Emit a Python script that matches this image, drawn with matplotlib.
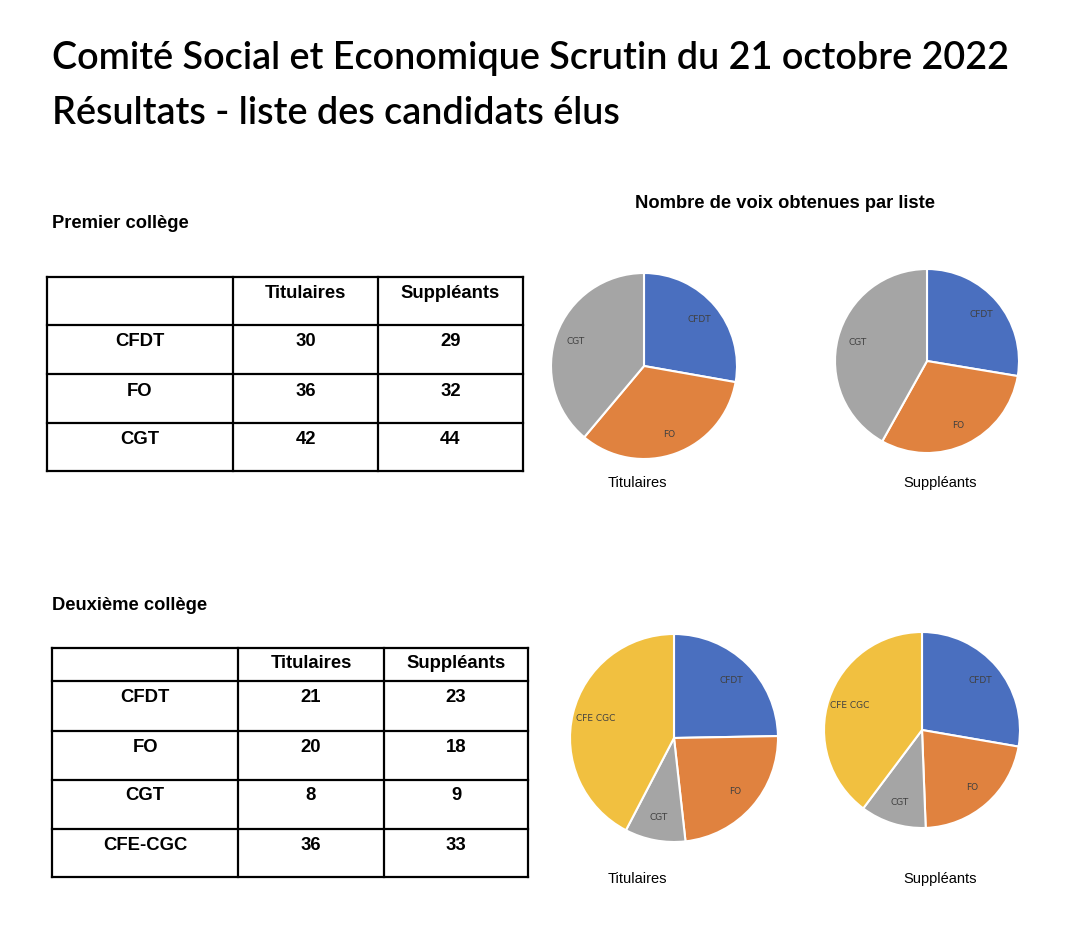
import matplotlib
matplotlib.use("Agg")
import matplotlib.pyplot as plt

# data
columns = ["Titulaires", "Suppléants"]

college1_lists = ["CFDT", "FO", "CGT"]
college1_titulaires = [30, 36, 42]
college1_suppleants = [29, 32, 44]

college2_lists = ["CFDT", "FO", "CGT", "CFE-CGC"]
college2_pie_labels = ["CFDT", "FO", "CGT", "CFE CGC"]
college2_titulaires = [21, 20, 8, 36]
college2_suppleants = [23, 18, 9, 33]

colors = ["#4a6fbf", "#e0823f", "#a5a5a5", "#f1c040"]

W, H = 1078, 940
fig = plt.figure(figsize=(W / 100, H / 100), dpi=100)
bg = fig.add_axes([0, 0, 1, 1])
bg.set_xlim(0, W)
bg.set_ylim(H, 0)
bg.axis("off")

# titles
bg.text(52, 58, "Comité Social et Economique Scrutin du 21 octobre 2022",
        fontsize=27.2, fontweight="semibold", family="Lato", va="center", ha="left")
bg.text(52, 113, "Résultats - liste des candidats élus",
        fontsize=27.2, fontweight="semibold", family="Lato", va="center", ha="left")

bg.text(52, 224, "Premier collège", fontsize=13.2, fontweight="bold",
        family="Liberation Sans", va="center")
bg.text(52, 606, "Deuxième collège", fontsize=13.2, fontweight="bold",
        family="Liberation Sans", va="center")
bg.text(785, 203, "Nombre de voix obtenues par liste", fontsize=13.2,
        fontweight="bold", family="Liberation Sans", va="center", ha="center")


def draw_table(x_edges, y_edges, rows, tit, sup, text_dy):
    for x in x_edges:
        bg.plot([x, x], [y_edges[0], y_edges[-1]], color="black", lw=1.6)
    for y in y_edges:
        bg.plot([x_edges[0], x_edges[-1]], [y, y], color="black", lw=1.6)
    for j, col in enumerate(columns):
        cx = (x_edges[j + 1] + x_edges[j + 2]) / 2
        bg.text(cx, y_edges[0] + text_dy[0], col, fontsize=13.3, fontweight="bold",
                family="Liberation Sans", ha="center", va="center")
    for i, name in enumerate(rows):
        vals = [name, tit[i], sup[i]]
        for j, v in enumerate(vals):
            cx = (x_edges[j] + x_edges[j + 1]) / 2
            bg.text(cx, y_edges[i + 1] + text_dy[1], str(v), fontsize=13.3,
                    fontweight="bold", family="Liberation Sans",
                    ha="center", va="center")


draw_table([47, 233, 378, 523], [277, 325, 374, 423, 471],
           college1_lists, college1_titulaires, college1_suppleants, (16, 17))
draw_table([52, 238, 384, 528], [648, 681, 731, 780, 829, 877],
           college2_lists, college2_titulaires, college2_suppleants, (16, 16))


def draw_pie(cx, cy, r, values, labels, title, tx, ty):
    ax = fig.add_axes([(cx - r) / W, (H - cy - r) / H, 2 * r / W, 2 * r / H])
    ax.pie(values, labels=labels, colors=colors[:len(values)], startangle=90,
           counterclock=False, labeldistance=0.78,
           wedgeprops=dict(edgecolor="white", linewidth=1.5),
           textprops=dict(fontsize=6.5, color="#404040", ha="center", va="center"))
    ax.set_xlim(-1.0, 1.0)
    ax.set_ylim(-1.0, 1.0)
    ax.set_aspect("equal")
    bg.text(tx, ty, title, fontsize=10.5, family="Liberation Sans",
            ha="center", va="center")


draw_pie(644, 366, 93, college1_titulaires, college1_lists, "Titulaires", 637, 483)
draw_pie(927, 361, 92, college1_suppleants, college1_lists, "Suppléants", 940, 483)
draw_pie(674, 738, 104, college2_titulaires, college2_pie_labels, "Titulaires", 637, 879)
draw_pie(922, 730, 98, college2_suppleants, college2_pie_labels, "Suppléants", 940, 879)

fig.savefig("out.png", dpi=100, facecolor="white")
